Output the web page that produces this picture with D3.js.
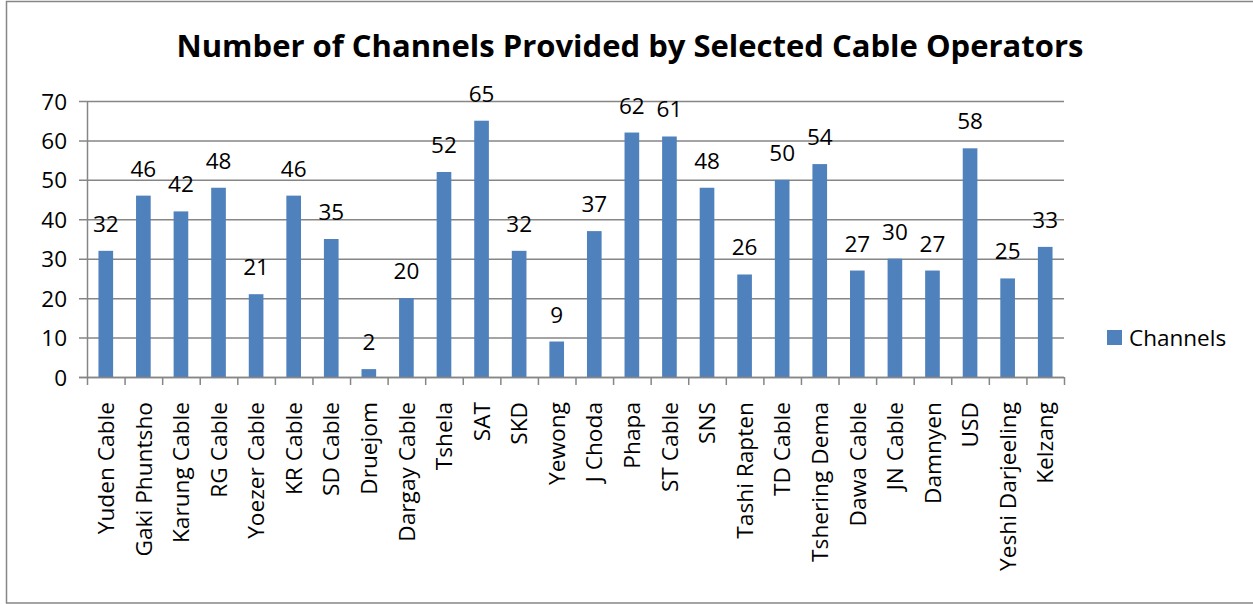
<!DOCTYPE html>
<html><head><meta charset="utf-8">
<script src="https://cdn.jsdelivr.net/npm/d3@7"></script>
<style>body{margin:0;background:#fff;}svg{display:block;}</style>
</head><body>
<svg id="c" width="1253" height="604"></svg>
<script>
const categories = ["Yuden Cable","Gaki Phuntsho","Karung Cable","RG Cable","Yoezer Cable","KR Cable","SD Cable","Druejom","Dargay Cable","Tshela","SAT","SKD","Yewong","J Choda","Phapa","ST Cable","SNS","Tashi Rapten","TD Cable","Tshering Dema","Dawa Cable","JN Cable","Damnyen","USD","Yeshi Darjeeling","Kelzang"];
const channels = [32,46,42,48,21,46,35,2,20,52,65,32,9,37,62,61,48,26,50,54,27,30,27,58,25,33];
const yTicks = [0,10,20,30,40,50,60,70];
const seriesName = "Channels";
const titleText = "Number of Channels Provided by Selected Cable Operators";

const FONT = "'Open Sans', 'Liberation Sans', sans-serif";
const svg = d3.select("#c");
svg.append("rect").attr("x",6.5).attr("y",1.5).attr("width",1250).attr("height",601.5)
  .attr("fill","#fff").attr("stroke","#868686").attr("stroke-width",1.5);

const L=87, R=1064, T=101, B=377;
const x = d3.scaleBand().domain(categories).range([L,R]).paddingInner(0.61).paddingOuter(0.305);
const xb = d3.scaleBand().domain(categories).range([L,R]);
const y = d3.scaleLinear().domain([0,70]).range([B,T]);

// gridlines
svg.append("g").selectAll("line").data(yTicks).join("line")
  .attr("x1",79).attr("x2",R).attr("y1",d=>y(d)+0.5).attr("y2",d=>y(d)+0.5)
  .attr("stroke","#868686").attr("stroke-width",1.5);

// y axis
const ya = svg.append("g").attr("transform",`translate(${L},0)`)
  .call(d3.axisLeft(y).tickValues(yTicks).tickSize(0).tickPadding(20));
ya.select(".domain").remove();
ya.selectAll("text").attr("font-family",FONT).attr("font-size",22.5).attr("fill","#000").attr("dy","0.36em");
svg.append("line").attr("x1",L+0.5).attr("x2",L+0.5).attr("y1",T).attr("y2",B).attr("stroke","#868686").attr("stroke-width",1.5);

// bars
svg.append("g").selectAll("rect").data(categories).join("rect")
  .attr("x",d=>x(d)).attr("width",x.bandwidth())
  .attr("y",(d,i)=>y(channels[i])).attr("height",(d,i)=>B-y(channels[i]))
  .attr("fill","#4F81BD");

// x axis
const bounds = categories.map(d=>xb(d)).concat([R]);
svg.append("g").selectAll("line").data(bounds).join("line")
  .attr("x1",d=>d+0.5).attr("x2",d=>d+0.5).attr("y1",B).attr("y2",385)
  .attr("stroke","#868686").attr("stroke-width",1.5);
svg.append("line").attr("x1",79).attr("x2",R).attr("y1",B+0.5).attr("y2",B+0.5).attr("stroke","#868686").attr("stroke-width",1.5);

svg.append("g").selectAll("text").data(categories).join("text")
  .attr("transform",d=>`translate(${xb(d)+xb.bandwidth()/2},402) rotate(-90)`)
  .attr("text-anchor","end").attr("dy","0.36em")
  .attr("font-family",FONT).attr("font-size",22.7).attr("fill","#000").text(d=>d);

// data labels
svg.append("g").selectAll("text").data(categories).join("text")
  .attr("x",d=>xb(d)+xb.bandwidth()/2).attr("y",(d,i)=>y(channels[i])-19)
  .attr("text-anchor","middle").attr("font-family",FONT).attr("font-size",22.5).attr("fill","#000")
  .text((d,i)=>channels[i]);

// legend
svg.append("rect").attr("x",1107).attr("y",330).attr("width",15).attr("height",15).attr("fill","#4F81BD");
svg.append("text").attr("x",1129).attr("y",345.5).attr("font-family",FONT).attr("font-size",22.5).attr("fill","#000").text(seriesName);

// title
const t = svg.append("text").attr("x",630).attr("y",57).attr("text-anchor","middle")
  .attr("font-family",FONT).attr("font-weight","bold").attr("font-size",30).attr("fill","#000").text(titleText);
const len = t.node().getComputedTextLength();
t.attr("font-size", 30*907/len);
</script>
</body></html>
